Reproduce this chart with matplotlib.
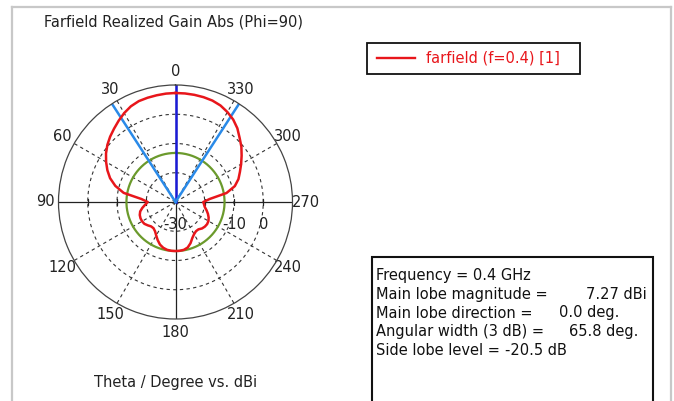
import numpy as np
import matplotlib.pyplot as plt
from matplotlib.patches import Rectangle

# farfield pattern, theta (deg) vs realized gain (dBi)
theta_deg = [0, 5, 10, 15, 20, 25, 30, 35, 40, 45, 50, 55, 60, 65, 70, 75, 80, 85,
             90, 95, 100, 105, 110, 115, 120, 125, 130, 135, 140, 145, 150, 155,
             160, 165, 170, 175, 180, 185, 190, 195, 200, 205, 210, 215, 220, 225,
             230, 235, 240, 245, 250, 255, 260, 265, 270, 275, 280, 285, 290, 295,
             300, 305, 310, 315, 320, 325, 330, 335, 340, 345, 350, 355, 360]
gain_dbi = [7.27, 7.2, 7.05, 6.9, 6.7, 6.1, 5.1, 3.9, 2.7, 1.6, 0.4, -1.0, -2.6,
            -4.3, -6.2, -8.7, -12.0, -18.3,
            -20.5, -19.6, -18.5, -17.5, -17.0, -16.8, -16.8, -17.0, -17.6, -18.2,
            -18.3, -17.8, -16.8, -15.6, -14.5, -13.8, -13.4, -13.25, -13.23,
            -13.25, -13.4, -13.9, -15.0, -16.4, -17.3, -17.8, -17.8, -17.2, -16.9,
            -16.8, -17.0, -17.5, -18.2, -19.0, -19.8, -20.2, -20.5, -18.3, -12.3,
            -9.0, -7.1, -5.7, -4.1, -2.4, -0.6, 1.0, 2.9, 4.4, 5.5, 6.4, 6.9,
            7.1, 7.2, 7.25, 7.27]

main_lobe_dir = 0.0
beam_width = 65.8
main_lobe_mag = 7.27
side_lobe_level = -20.5

r_min, r_max = -30, 10
ring_vals = [-20, -10, 0]
ring_labels = ["-30", "-10", "0"]
ring_label_r = [-30, -10, 0]
angle_ticks = list(range(0, 360, 30))

info_labels = ["Frequency = 0.4 GHz", "Main lobe magnitude =", "Main lobe direction =",
               "Angular width (3 dB) =", "Side lobe level ="]
info_values = ["", "7.27 dBi", "0.0 deg.", "65.8 deg.", "-20.5 dB"]
info_value_x = [0, 647, 559, 569, 505]

W, H = 674, 401
fig = plt.figure(figsize=(W / 100, H / 100), dpi=100)
fig.patch.set_facecolor("white")

def fx(px):
    return px / W

def fy(py):
    return 1 - py / H

# outer gray frame
fig.add_artist(plt.Line2D([fx(12), fx(12)], [fy(7), 0], color="#c8c8c8", lw=1.6))
fig.add_artist(plt.Line2D([fx(12), fx(671)], [fy(7), fy(7)], color="#c8c8c8", lw=1.6))
fig.add_artist(plt.Line2D([fx(671), fx(671)], [fy(7), 0], color="#c8c8c8", lw=1.6))

cx, cy, R = 175.5, 202, 117
ax = fig.add_axes([fx(cx - R), fy(cy + R), 2 * R / W, 2 * R / H], projection="polar")
ax.set_theta_zero_location("N")
ax.set_theta_direction(1)
ax.set_ylim(r_min, r_max)
ax.grid(False)
ax.set_yticks([])
ax.spines["polar"].set_color("#444444")
ax.spines["polar"].set_linewidth(0.9)

full = np.linspace(0, 2 * np.pi, 361)
for rv in ring_vals:
    ax.plot(full, [rv] * len(full), color="#333333", lw=0.8, ls=(0, (3, 3)))
for a in angle_ticks:
    t = np.deg2rad(a)
    if a % 90 == 0:
        ax.plot([t, t], [r_min, r_max], color="#222222", lw=0.9)
    else:
        ax.plot([t, t], [r_min, r_max], color="#333333", lw=0.8, ls=(0, (3, 3)))

# small ticks on the horizontal axis
for rv in ring_vals:
    ax.plot([np.pi / 2, 3 * np.pi / 2], [rv, rv], ls="none", marker="|", ms=4,
            color="#222222", mew=0.9)

ax.set_xticks(np.deg2rad(angle_ticks))
ax.set_xticklabels([str(a) for a in angle_ticks], fontsize=10.5, color="#222222")
ax.tick_params(axis="x", pad=-1)

# side lobe level circle
ax.plot(full, [main_lobe_mag + side_lobe_level] * len(full), color="#6b9a2c", lw=1.6)

# main lobe direction and 3 dB beam width
ax.plot([np.deg2rad(main_lobe_dir)] * 2, [r_min, r_max], color="#1a1ad6", lw=1.8)
for sgn in (1, -1):
    t = np.deg2rad(main_lobe_dir + sgn * beam_width / 2)
    ax.plot([t, t], [r_min, r_max], color="#2a8ae8", lw=1.8)

ax.plot(np.deg2rad(theta_deg), gain_dbi, color="#e8161b", lw=1.8)

for lab, rv in zip(ring_labels, ring_label_r):
    ax.annotate(lab, xy=(3 * np.pi / 2, rv), xytext=(0, -16), textcoords="offset points",
                ha="center", va="center", fontsize=10.5, color="#222222")

# titles
fig.text(fx(173), fy(22), "Farfield Realized Gain Abs (Phi=90)", ha="center", va="center",
         fontsize=10.5, color="#222222")
fig.text(fx(176), fy(383), "Theta / Degree vs. dBi", ha="center", va="center",
         fontsize=10.5, color="#222222")

# legend box
fig.add_artist(Rectangle((fx(367), fy(74)), fx(580) - fx(367), fy(43) - fy(74),
                         fill=False, ec="#111111", lw=1.3))
fig.add_artist(plt.Line2D([fx(377), fx(415)], [fy(58), fy(58)], color="#e8161b", lw=1.7))
fig.text(fx(426), fy(58), "farfield (f=0.4) [1]", ha="left", va="center",
         fontsize=10.5, color="#e8161b")

# info box
fig.add_artist(Rectangle((fx(372), -0.05), fx(653) - fx(372), fy(257) + 0.05,
                         fill=True, fc="white", ec="#111111", lw=1.5))
for i, (lab, val, vx) in enumerate(zip(info_labels, info_values, info_value_x)):
    y = 275.5 + i * 18.75
    fig.text(fx(376), fy(y), lab, ha="left", va="center", fontsize=10.5, color="#111111")
    if val:
        ha = "right" if i == 1 else "left"
        fig.text(fx(vx), fy(y), val, ha=ha, va="center", fontsize=10.5, color="#111111")

fig.savefig("out.png", dpi=100)
